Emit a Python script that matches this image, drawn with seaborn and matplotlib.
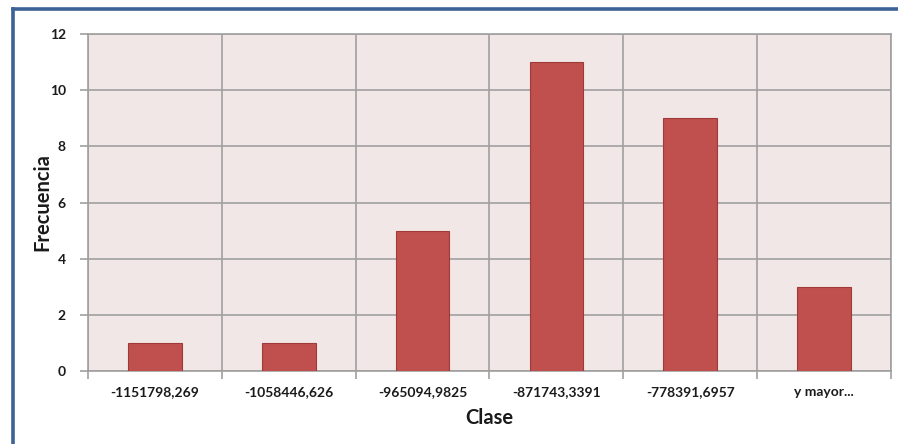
import matplotlib
matplotlib.use("Agg")
import matplotlib.pyplot as plt
from matplotlib.lines import Line2D
import seaborn as sns
import pandas as pd
import numpy as np

clases = ["-1151798,269", "-1058446,626", "-965094,9825",
          "-871743,3391", "-778391,6957", "y mayor..."]
frecuencias = [1, 1, 5, 11, 9, 3]
y_ticks = [0, 2, 4, 6, 8, 10, 12]

sns.set_theme(style="white")
plt.rcParams["font.family"] = ["Lato", "DejaVu Sans"]

W, H = 898, 444
fig = plt.figure(figsize=(W / 100, H / 100), dpi=100)
fig.patch.set_facecolor("white")
ax = fig.add_axes([88 / W, 1 - 371 / H, (891 - 88) / W, (371 - 34) / H])

df = pd.DataFrame({"Clase": clases, "Frecuencia": frecuencias})
sns.barplot(data=df, x="Clase", y="Frecuencia", ax=ax, width=0.4,
            color="#C0504D", edgecolor="#9E3B38", linewidth=0.8,
            saturation=1, zorder=3)

ax.set_facecolor("#F2E7E7")
ax.set_xlim(-0.5, len(clases) - 0.5)
ax.set_ylim(0, 12)
ax.set_yticks(y_ticks)

# category boundaries as minor ticks carry the vertical grid
ax.set_xticks(np.arange(-0.5, len(clases), 1.0), minor=True)
ax.tick_params(axis="x", which="major", length=0, pad=11)
ax.tick_params(axis="x", which="minor", length=6, width=1.2,
               color="#A0A0A0", direction="out", bottom=True)
ax.tick_params(axis="y", length=6, width=1.2, color="#A0A0A0",
               direction="out", left=True, pad=10)
ax.grid(True, axis="x", which="minor", color="#A0A0A0", linewidth=1.2, zorder=0)
ax.grid(True, axis="y", which="major", color="#A0A0A0", linewidth=1.2, zorder=0)
ax.set_axisbelow(True)

for spine in ax.spines.values():
    spine.set_visible(True)
    spine.set_color("#A0A0A0")
    spine.set_linewidth(1.2)

for lbl in ax.get_xticklabels() + ax.get_yticklabels():
    lbl.set_fontweight("bold")
    lbl.set_fontsize(10)
    lbl.set_color("#1A1A1A")

ax.set_xlabel("Clase", fontsize=14.5, fontweight="bold", color="#1A1A1A")
ax.set_ylabel("Frecuencia", fontsize=14.5, fontweight="bold", color="#1A1A1A")
ax.xaxis.label.set_va("center")
ax.yaxis.label.set_va("center")
ax.xaxis.set_label_coords(0.5, (371 - 418) / 337)
ax.yaxis.set_label_coords((42 - 88) / 803, 0.5)

# blue frame of the chart area
frame = "#3C6296"
fig.add_artist(Line2D([13 / W, 13 / W], [0, 1 - 9 / H], transform=fig.transFigure,
                      color=frame, linewidth=2.6, solid_capstyle="projecting"))
fig.add_artist(Line2D([13 / W, 1], [1 - 9 / H, 1 - 9 / H], transform=fig.transFigure,
                      color=frame, linewidth=2.6, solid_capstyle="projecting"))

fig.savefig("out.png", dpi=100, facecolor="white")
